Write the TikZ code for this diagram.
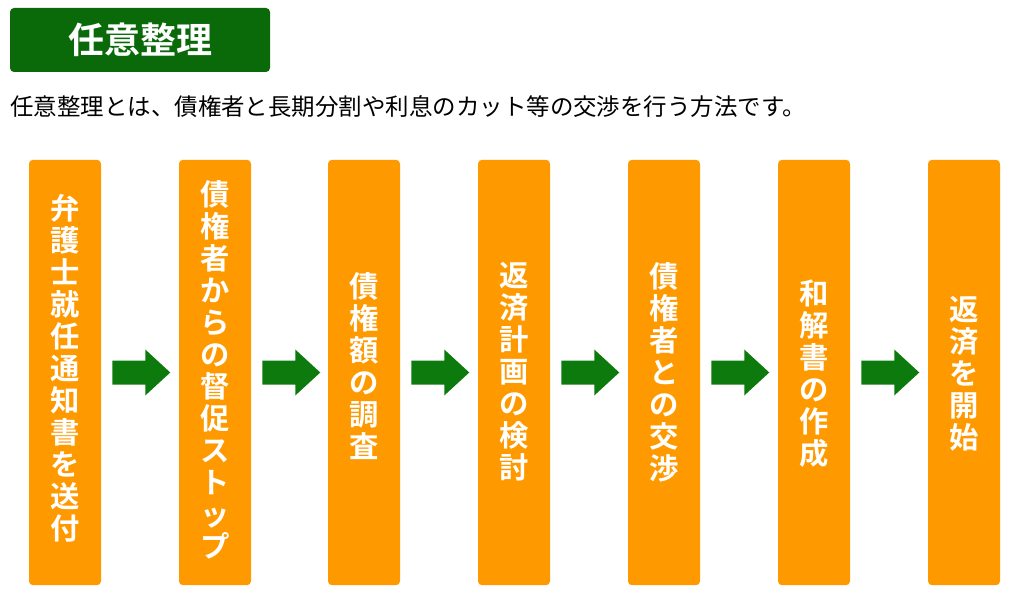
\documentclass[tikz,border=0pt]{standalone}
\usepackage{fontspec}
\newfontfamily\cjk{Noto Sans CJK JP}[BoldFont={Noto Sans CJK JP Bold}]
\definecolor{dg}{HTML}{0A6A0A}
\definecolor{ag}{HTML}{0C7A0C}
\definecolor{og}{HTML}{FF9900}
\begin{document}
\begin{tikzpicture}[x=0.75pt,y=-0.75pt,
  stepbox/.style={fill=og,rounded corners=3pt,minimum width=54pt,minimum height=319pt,inner sep=0pt},
  vt/.style={anchor=north,inner sep=0pt,text=white,align=center,font=\cjk\bfseries\fontsize{22}{24}\selectfont},
  arr/.style={fill=ag}]
\useasboundingbox (0,0) rectangle (1024,599);
\node[fill=dg,rounded corners=3pt,minimum width=195pt,minimum height=48pt,inner sep=0pt,text=white,font=\cjk\bfseries\fontsize{27}{30}\selectfont] (title) at (140,40) {任意整理};
\node[anchor=west,inner sep=0pt,font=\cjk\fontsize{17.6}{20}\selectfont] (sub) at (10,107) {任意整理とは、債権者と長期分割や利息のカット等の交渉を行う方法です。};
\foreach \n/\x in {1/65,2/215,3/364,4/514,5/664,6/814,7/964}
  \node[stepbox] (b\n) at (\x,372.5) {};
\node[vt] (t1) at (65,194) {弁\\護\\士\\就\\任\\通\\知\\書\\を\\送\\付};
\node[vt] (t2) at (215,180) {債\\権\\者\\か\\ら\\の\\督\\促\\ス\\ト\\ッ\\プ};
\node[vt] (t3) at (364,272) {債\\権\\額\\の\\調\\査};
\node[vt] (t4) at (514,262) {返\\済\\計\\画\\の\\検\\討};
\node[vt] (t5) at (664,262) {債\\権\\者\\と\\の\\交\\渉};
\node[vt] (t6) at (814,280) {和\\解\\書\\の\\作\\成};
\node[vt] (t7) at (964,296) {返\\済\\を\\開\\始};
\foreach \a/\b in {b1/b2,b2/b3,b3/b4,b4/b5,b5/b6,b6/b7}{
  \path (\a.east) ++(11,12) coordinate (p);
  \fill[arr] (p) -- ++(33,0) -- ++(0,11) -- ++(25,-23) -- ++(-25,-23) -- ++(0,11) -- ++(-33,0) -- cycle;
}
\end{tikzpicture}
\end{document}
